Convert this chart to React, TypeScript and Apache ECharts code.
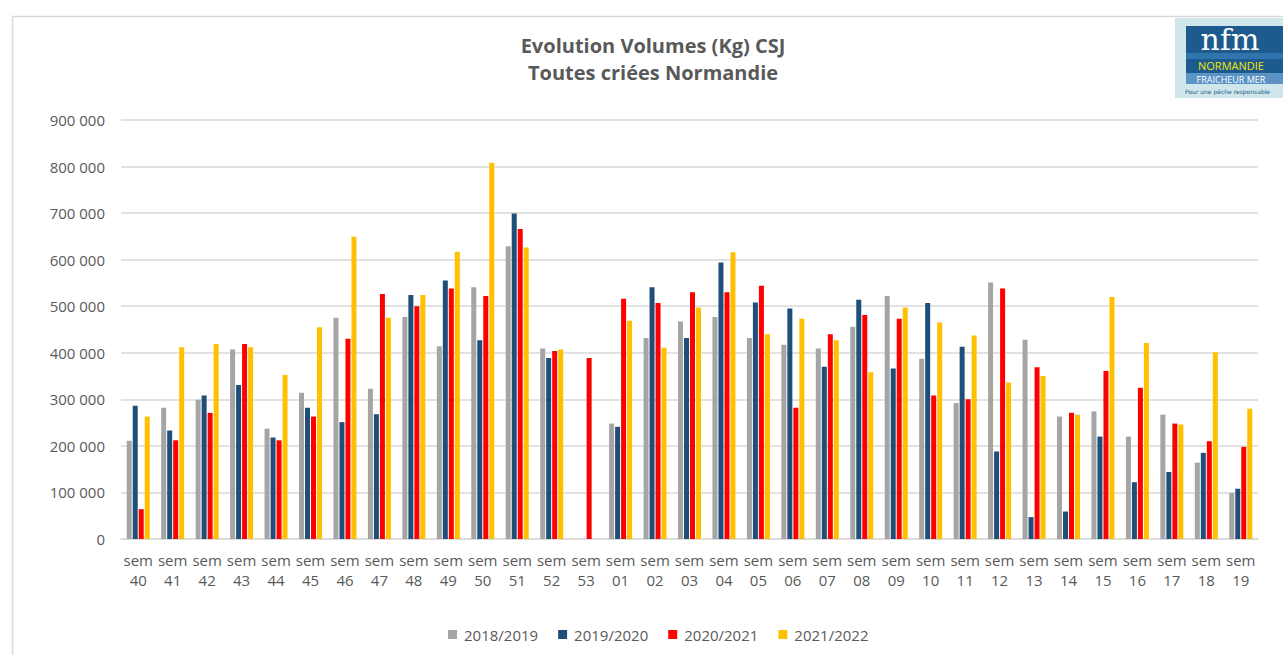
import React, { useEffect, useRef } from "react";
import * as echarts from "echarts";

const weeks = ["40","41","42","43","44","45","46","47","48","49","50","51","52","53","01","02","03","04","05","06","07","08","09","10","11","12","13","14","15","16","17","18","19"];
const categories = weeks.map((w) => "sem\n" + w);

const s2018: (number | null)[] = [211000,282000,299000,407000,237000,314000,475000,323000,477000,414000,541000,629000,409000,null,248000,432000,467000,477000,432000,417000,409000,456000,522000,387000,292000,551000,428000,263000,274000,220000,267000,164000,99000];
const s2019: (number | null)[] = [286000,233000,308000,331000,218000,282000,251000,268000,524000,555000,427000,699000,389000,null,241000,541000,432000,594000,508000,495000,370000,514000,366000,507000,413000,188000,47000,59000,220000,122000,144000,185000,108000];
const s2020: (number | null)[] = [64000,212000,271000,419000,212000,263000,430000,526000,500000,538000,522000,666000,404000,389000,516000,507000,530000,530000,544000,282000,440000,481000,473000,308000,300000,538000,369000,271000,361000,325000,248000,210000,198000];
const s2021: (number | null)[] = [263000,412000,419000,412000,352000,455000,649000,475000,524000,617000,808000,626000,407000,null,469000,411000,497000,616000,440000,473000,427000,358000,497000,465000,437000,336000,350000,267000,520000,421000,246000,401000,280000];

const seriesNames = ["2018/2019", "2019/2020", "2020/2021", "2021/2022"];
const seriesColors = ["#a5a5a5", "#1f4e79", "#ff0000", "#ffc000"];
const seriesData = [s2018, s2019, s2020, s2021];

const FONT = "'Open Sans', sans-serif";

export default function App() {
  const ref = useRef<HTMLDivElement>(null);
  useEffect(() => {
    if (!ref.current) return;
    const chart = echarts.init(ref.current, undefined, { renderer: "svg" });
    chart.setOption({
      animation: false,
      backgroundColor: "#ffffff",
      title: {
        text: "Evolution Volumes (Kg) CSJ\nToutes criées Normandie",
        left: 648,
        top: 27,
        textAlign: "center",
        textStyle: {
          fontFamily: "'Open Sans', sans-serif",
          fontWeight: "bold",
          fontSize: 20,
          lineHeight: 27,
          color: "#595959",
        },
      },
      legend: {
        data: seriesNames,
        left: 443,
        top: 622,
        itemWidth: 9,
        itemHeight: 9,
        itemGap: 20,
        icon: "rect",
        textStyle: { fontFamily: FONT, fontSize: 15, color: "#595959", padding: [0, 0, 0, 2] },
      },
      grid: { left: 121, right: 25, top: 120, bottom: 116, containLabel: false },
      xAxis: {
        type: "category",
        data: categories,
        axisLine: { lineStyle: { color: "#d9d9d9", width: 1.5 } },
        axisTick: { show: false },
        axisLabel: {
          fontFamily: FONT,
          fontSize: 15,
          color: "#595959",
          lineHeight: 20,
          margin: 11,
          interval: 0,
        },
      },
      yAxis: {
        type: "value",
        min: 0,
        max: 900000,
        interval: 100000,
        axisLine: { show: false },
        axisTick: { show: false },
        splitLine: { lineStyle: { color: "#d9d9d9", width: 1.5 } },
        axisLabel: {
          fontFamily: FONT,
          fontSize: 15,
          color: "#595959",
          margin: 16,
          formatter: (v: number) => String(v).replace(/\B(?=(\d{3})+(?!\d))/g, " "),
        },
      },
      series: seriesNames.map((name, i) => ({
        name,
        type: "bar",
        data: seriesData[i],
        barWidth: 5,
        barGap: "20%",
        itemStyle: { color: seriesColors[i] },
      })),
      graphic: [
        {
          type: "rect",
          shape: { x: 12.5, y: 16.5, width: 1400, height: 800 },
          style: { fill: "none", stroke: "#d9d9d9", lineWidth: 1.5 },
          silent: true,
          z: -10,
        },
        {
          type: "group",
          left: 1175,
          top: 18,
          children: [
            { type: "rect", shape: { x: 0, y: 0, width: 108, height: 80 }, style: { fill: "#cfe7ea" } },
            { type: "rect", shape: { x: 11, y: 8, width: 97, height: 58 }, style: { fill: "#1d5a8e" } },
            { type: "rect", shape: { x: 11, y: 35, width: 97, height: 6 }, style: { fill: "#2f74aa" } },
            { type: "rect", shape: { x: 11, y: 55, width: 97, height: 11 }, style: { fill: "#5b93c6" } },
            {
              type: "text",
              x: 55,
              y: 21,
              style: { text: "nfm", fill: "#ffffff", font: "30px 'DejaVu Serif', serif", align: "center", verticalAlign: "middle" },
            },
            {
              type: "text",
              x: 56,
              y: 47,
              style: { text: "NORMANDIE", fill: "#f5e600", font: "11px 'Open Sans', sans-serif", align: "center", verticalAlign: "middle" },
            },
            {
              type: "text",
              x: 56,
              y: 61,
              style: { text: "FRAICHEUR MER", fill: "#ffffff", font: "9px 'Open Sans', sans-serif", align: "center", verticalAlign: "middle" },
            },
            {
              type: "text",
              x: 10,
              y: 73,
              style: { text: "Pour une pêche responsable", fill: "#1d5a8e", font: "6px 'DejaVu Sans', sans-serif", align: "left", verticalAlign: "middle" },
            },
          ],
        },
      ],
    });
    return () => chart.dispose();
  }, []);
  return <div ref={ref} style={{ position: "fixed", left: 0, top: 0, width: 1283, height: 655 }} />;
}
